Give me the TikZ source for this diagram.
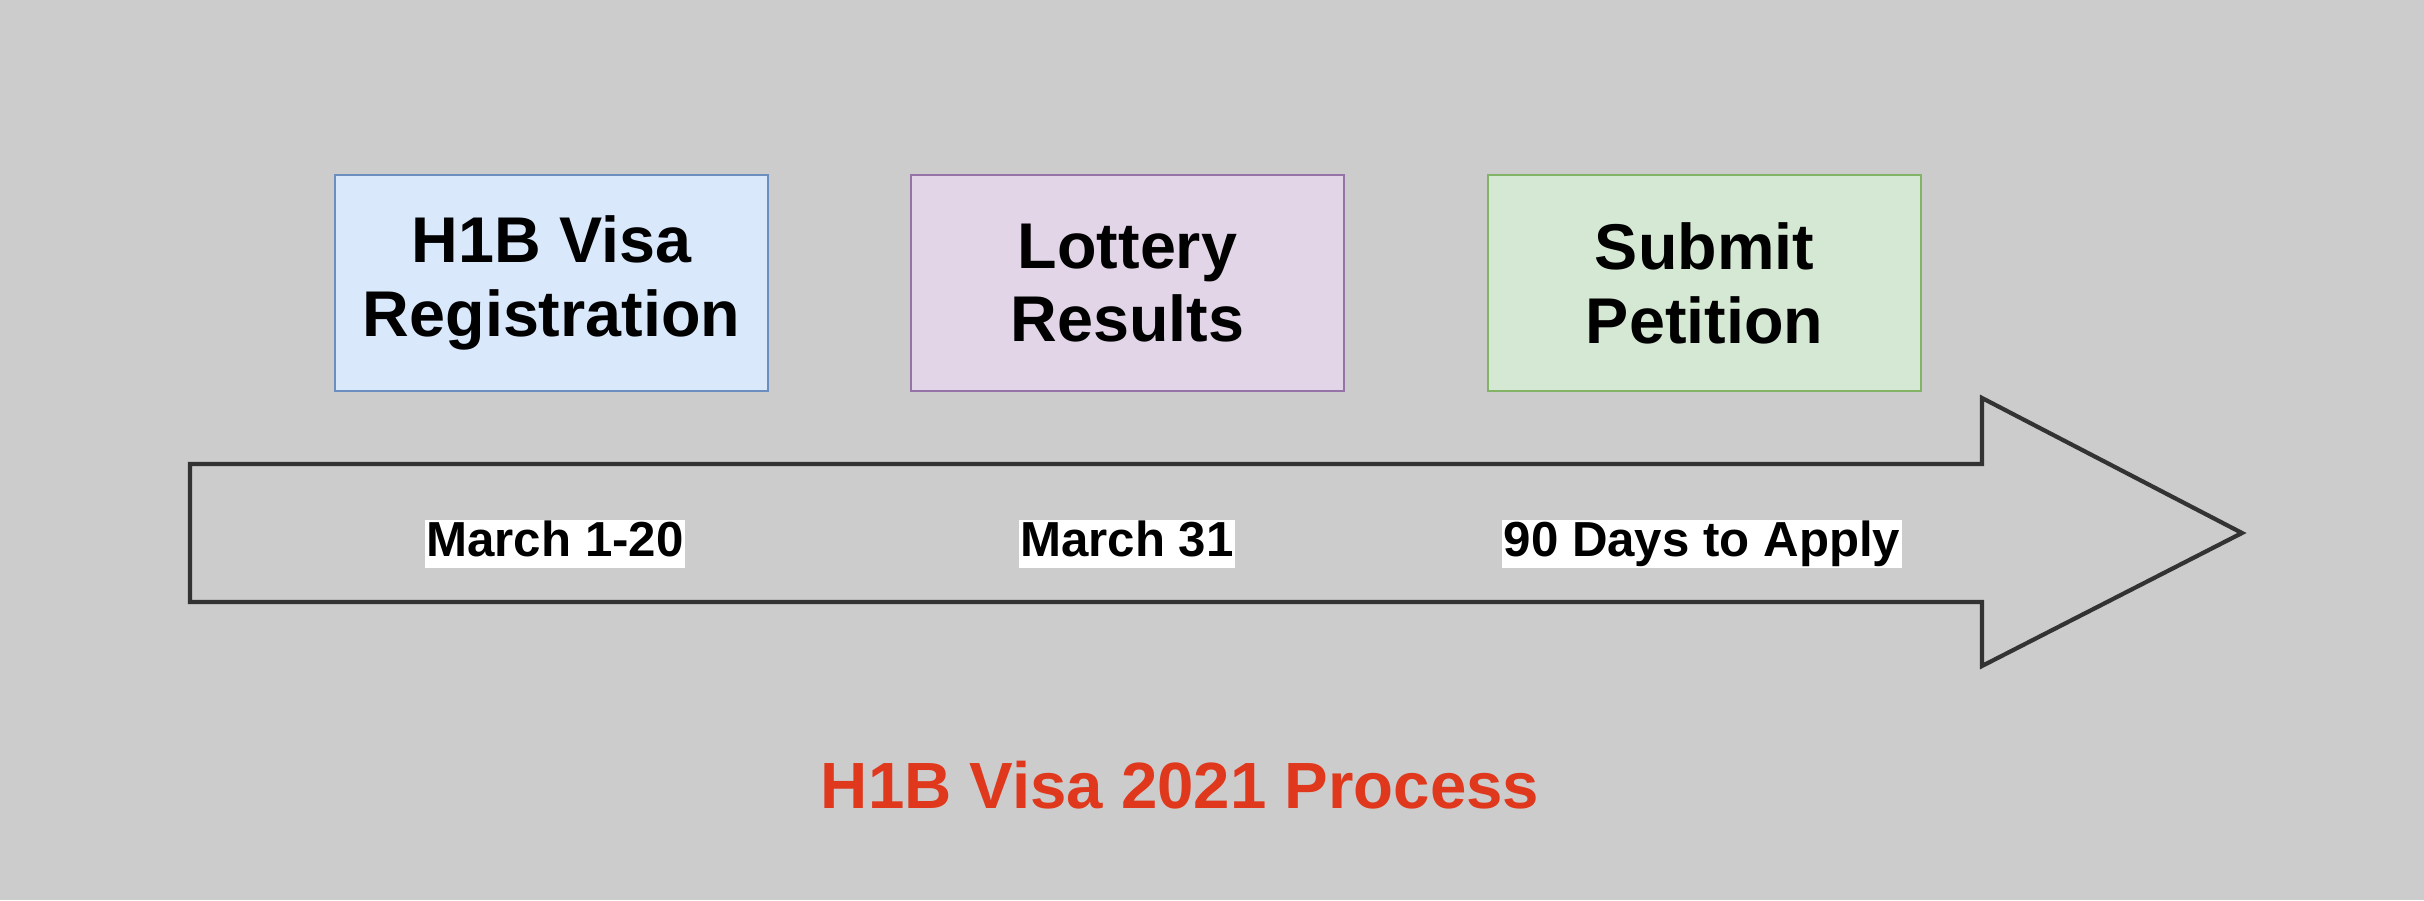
\documentclass[tikz,border=0pt]{standalone}
\usepackage{fontspec}
\setmainfont{Liberation Sans}
\definecolor{bggray}{HTML}{CCCCCC}
\definecolor{bluefill}{HTML}{DAE8FC}
\definecolor{blueline}{HTML}{6C8EBF}
\definecolor{purpfill}{HTML}{E1D5E7}
\definecolor{purpline}{HTML}{9673A6}
\definecolor{greenfill}{HTML}{D5E8D4}
\definecolor{greenline}{HTML}{82B366}
\definecolor{arrowline}{HTML}{333333}
\definecolor{titlered}{HTML}{E0381C}
\tikzset{
  stepbox/.style={draw, line width=0.8pt, minimum width=4.33cm, minimum height=2.16cm,
    align=center, font=\fontsize{18.4}{21}\selectfont\bfseries, text=black},
  datelabel/.style={fill=white, inner xsep=0.5pt, inner ysep=0pt, text height=0.36cm, text depth=0.12cm,
    font=\fontsize{14}{16}\selectfont\bfseries, text=black},
  titletext/.style={font=\fontsize{18.6}{22}\selectfont\bfseries},
}
\begin{document}
\begin{tikzpicture}
\fill[bggray] (0,0) rectangle (24.24,9);
\useasboundingbox (0,0) rectangle (24.24,9);

% big arrow
\draw[arrowline, line width=1.2pt, line join=miter]
  (1.90,4.36) -- (19.82,4.36) -- (19.82,5.02) -- (22.42,3.67) -- (19.82,2.34)
  -- (19.82,2.98) -- (1.90,2.98) -- cycle;

% boxes
\node[stepbox, fill=bluefill, draw=blueline] (reg) at (5.515,6.17) {H1B Visa\\Registration};
\node[stepbox, fill=purpfill, draw=purpline] (lot) at (11.275,6.17) {Lottery\\Results};
\node[stepbox, fill=greenfill, draw=greenline] (pet) at (17.045,6.17) {Submit\\Petition};

% date labels
\node[datelabel] (d1) at (5.55,3.56) {March 1-20};
\node[datelabel] (d2) at (11.27,3.56) {March 31};
\node[datelabel] (d3) at (17.02,3.56) {90 Days to Apply};

% title
\node[titletext, text=titlered] (title) at (11.80,1.15) {H1B Visa 2021 Process};
\end{tikzpicture}
\end{document}
